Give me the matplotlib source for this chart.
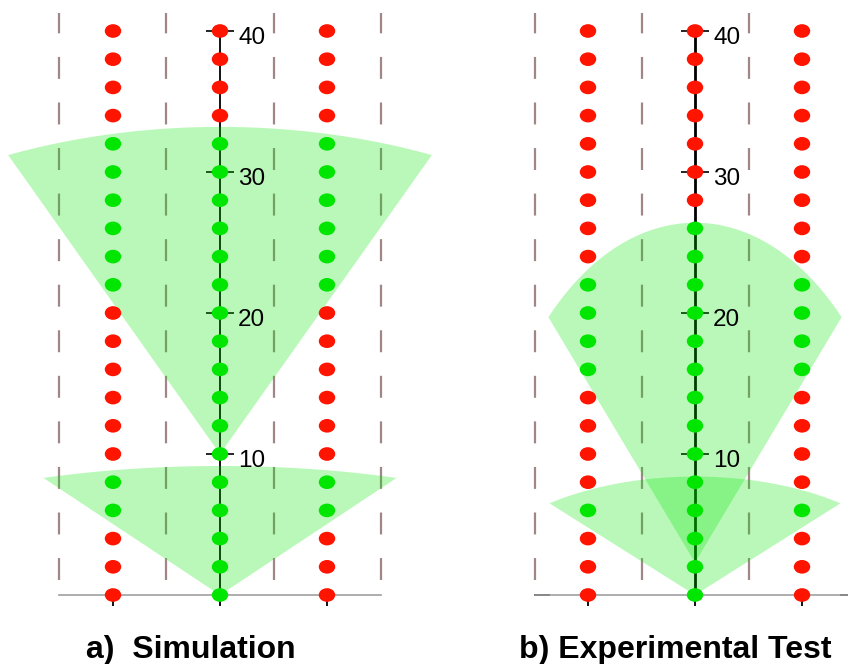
import numpy as np
import matplotlib
matplotlib.use("Agg")
import matplotlib.pyplot as plt
from matplotlib.path import Path
from matplotlib.patches import Polygon
from matplotlib.transforms import Affine2D

plt.rcParams['lines.scale_dashes'] = False

# ---------------- data ----------------
dot_y = list(range(0, 41, 2))          # 0..40 step 2 (21 positions)
columns = [-1, 0, 1]
grid_x = [-1.5, -0.5, 0.5, 1.5]
tick_vals = [10, 20, 30, 40]
tick_labels = ["10", "20", "30", "40"]

# 1 = detected (green), 0 = not detected (red); listed from y=0 upward
sim_side   = [0, 0, 0, 1, 1, 0, 0, 0, 0, 0, 0, 1, 1, 1, 1, 1, 1, 0, 0, 0, 0]
sim_center = [1, 1, 1, 1, 1, 1, 1, 1, 1, 1, 1, 1, 1, 1, 1, 1, 1, 0, 0, 0, 0]
exp_side   = [0, 0, 0, 1, 0, 0, 0, 0, 1, 1, 1, 1, 0, 0, 0, 0, 0, 0, 0, 0, 0]
exp_center = [1, 1, 1, 1, 1, 1, 1, 1, 1, 1, 1, 1, 1, 1, 0, 0, 0, 0, 0, 0, 0]

# sensor cones: (apex y, top of arc y, corner half-width, corner y)
sim_cones = [(0.0, 9.15, 1.65, 8.3), (10.0, 33.2, 1.98, 31.2)]
exp_cones = [(0.0, 8.4, 1.36, 6.5), (2.3, 26.4, 1.37, 19.7)]

titles = ["a)  Simulation", "b) Experimental Test"]

# ---------------- style ----------------
RED = '#ff1400'
GREEN = '#00e600'
CONE = '#00e800'
DASH = '#a08686'

W, H = 848, 664
fig = plt.figure(figsize=(W / 100, H / 100), dpi=100)

px_x = 107.0    # pixels per column unit
px_y = 14.1     # pixels per y unit
xlim = (-2.05, 2.05)
ylim = (-4.5, 42.2)
y0_px_from_bottom = H - 595

ellipse = Path.unit_circle().transformed(Affine2D().scale(1.0, 0.83))


def make_axes(center_px, lw_axis):
    left = center_px + xlim[0] * px_x
    width = (xlim[1] - xlim[0]) * px_x
    bottom = y0_px_from_bottom + ylim[0] * px_y
    height = (ylim[1] - ylim[0]) * px_y
    ax = fig.add_axes([left / W, bottom / H, width / W, height / H])
    ax.set_xlim(*xlim)
    ax.set_ylim(*ylim)
    ax.patch.set_alpha(0)
    for s in ['top', 'left']:
        ax.spines[s].set_visible(False)
    ax.spines['right'].set_position(('data', 0))
    ax.spines['right'].set_bounds(0, 40)
    ax.spines['right'].set_linewidth(lw_axis)
    ax.spines['right'].set_color('black')
    ax.spines['bottom'].set_position(('data', 0))
    ax.spines['bottom'].set_bounds(grid_x[0], grid_x[-1])
    ax.spines['bottom'].set_color('#a0a0a0')
    ax.spines['bottom'].set_linewidth(1.2)
    ax.yaxis.set_ticks_position('right')
    ax.set_yticks(tick_vals)
    ax.set_xticks(columns)
    ax.tick_params(axis='y', direction='inout', length=20, width=1.2,
                   color='black', labelright=False, labelleft=False)
    ax.tick_params(axis='x', direction='out', length=8, width=1.3,
                   color='black', labelbottom=False, pad=0)
    return ax


def draw_panel(ax, side, center, cones):
    # dashed lane lines
    for gx in grid_x:
        ax.plot([gx, gx], [1.05, 41.3], color=DASH, lw=1.6,
                dashes=(15.8, 17.0), zorder=1, solid_capstyle='butt',
                dash_capstyle='butt')
    # sensor cones
    for apex, top, cx, cy in cones:
        b = top - apex
        th = np.arccos((cy - apex) / b)
        a = cx / np.sin(th)
        phi = np.linspace(-th, th, 120)
        pts = [(0, apex)] + list(zip(a * np.sin(phi), apex + b * np.cos(phi)))
        ax.add_patch(Polygon(pts, closed=True, facecolor=CONE, alpha=0.27,
                             edgecolor='none', zorder=3))
    # dots
    for cx, flags in zip(columns, [side, center, side]):
        cols = [GREEN if f else RED for f in flags]
        ax.scatter([cx] * len(dot_y), dot_y, s=140, marker=ellipse,
                   c=cols, edgecolors='none', zorder=5)
    # tick labels
    for v, t in zip(tick_vals, tick_labels):
        ax.annotate(t, (0, v), xytext=(13, -5), textcoords='offset points',
                    ha='left', va='center', fontsize=17.5,
                    family='Liberation Sans', color='black', zorder=6)


ax1 = make_axes(220, 1.3)
draw_panel(ax1, sim_side, sim_center, sim_cones)

ax2 = make_axes(695, 2.0)
draw_panel(ax2, exp_side, exp_center, exp_cones)
# black end stubs on the experimental baseline
ax2.plot([grid_x[0], grid_x[0] + 0.14], [0, 0], color='black', lw=1.3, zorder=2)
ax2.plot([grid_x[-1] - 0.14, grid_x[-1]], [0, 0], color='black', lw=1.3, zorder=2)

fig.text(191 / W, (H - 658) / H, titles[0], ha='center', va='baseline',
         fontsize=23, fontweight='bold', family='Liberation Sans')
fig.text(675 / W, (H - 658) / H, titles[1], ha='center', va='baseline',
         fontsize=23, fontweight='bold', family='Liberation Sans')

fig.savefig('out.png', dpi=100)
